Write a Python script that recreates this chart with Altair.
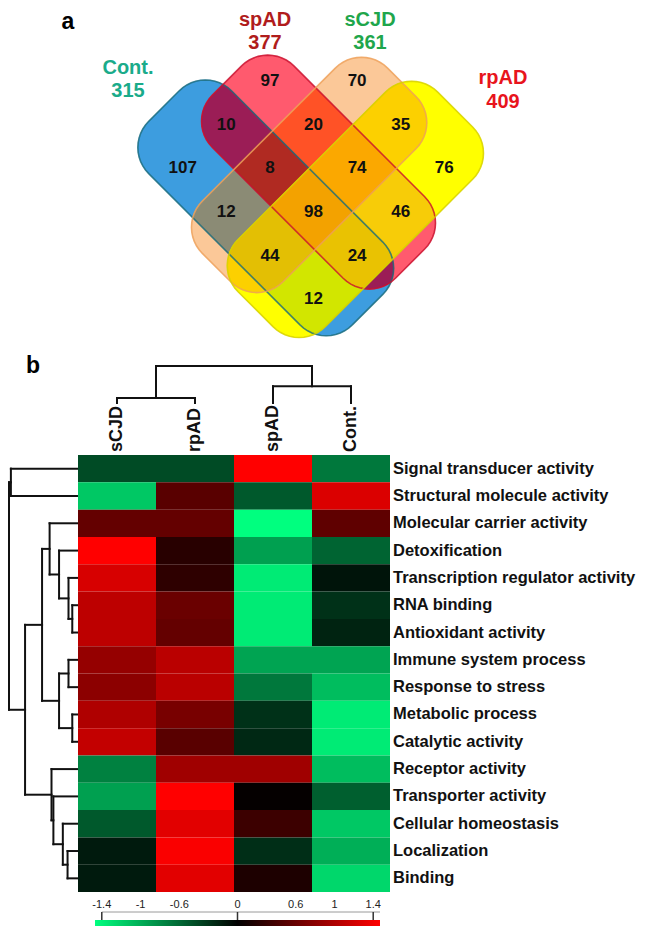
import math
import altair as alt
import pandas as pd

# ======================= DATA =======================
# --- Venn (panel a) ---
set_codes = ["C", "S", "J", "R"]
set_names = ["Cont.", "spAD", "sCJD", "rpAD"]
set_totals = [315, 377, 361, 409]

region_keys = ["C", "S", "J", "R", "CS", "SJ", "CJ", "JR", "SR", "CR",
               "CSJ", "SJR", "CJR", "CSR", "CSJR"]
region_counts = [107, 97, 70, 76, 10, 20, 12, 35, 46, 12, 8, 74, 44, 24, 98]

# --- Heatmap (panel b) ---
groups = ["sCJD", "rpAD", "spAD", "Cont."]
terms = ["Signal transducer activity", "Structural molecule activity",
         "Molecular carrier activity", "Detoxification",
         "Transcription regulator activity", "RNA binding",
         "Antioxidant activity", "Immune system process",
         "Response to stress", "Metabolic process", "Catalytic activity",
         "Receptor activity", "Transporter activity",
         "Cellular homeostasis", "Localization", "Binding"]
vals_sCJD = [-0.41, -1.10, 0.55, 1.40, 1.18, 1.04, 1.04, 0.82, 0.77, 0.96,
             1.07, -0.71, -0.88, -0.49, -0.14, -0.14]
vals_rpAD = [-0.41, 0.49, 0.55, 0.22, 0.25, 0.58, 0.55, 1.02, 1.02, 0.66,
             0.49, 0.88, 1.40, 1.24, 1.37, 1.24]
vals_spAD = [1.40, -0.49, -1.40, -0.88, -1.29, -1.29, -1.29, -0.90, -0.66,
             -0.27, -0.22, 0.88, 0.03, 0.33, -0.25, 0.16]
vals_Cont = [-0.66, 1.20, 0.52, -0.55, -0.11, -0.27, -0.19, -0.90, -1.04,
             -1.29, -1.29, -1.04, -0.52, -1.10, -0.96, -1.18]

# row dendrogram merges (negative id -k-1 = merge k), heights
row_merge_a = [14, 13, 12, 11, 5, 4, 3, 2, 7, 9, -9, -8, -12, 0, -14]
row_merge_b = [15, -1, -2, -3, 6, -5, -6, -7, 8, 10, -10, -11, -4, 1, -13]
row_merge_h = [10, 15, 25, 27, 5, 9, 19, 29, 9, 5, 19, 37, 55, 70, 72]
# column dendrogram merges
col_merge_a = [0, 2, -1]
col_merge_b = [1, 3, -2]
col_merge_h = [0.7, 2.4, 5.3]

# colour bar ticks
cb_labels = [-1.4, -1, -0.6, 0, 0.6, 1, 1.4]
cb_ticks = [-1.4, 0, 1.4]
cb_extent = [-1.47, 1.47]

# ======================= LAYOUT / STYLE =======================
W, H = 630, 919
FONT = "Liberation Sans"
X0, Y0, S = 305.5, 204.0, 43.6          # rotated lattice of the Venn
RAD = 0.6
shape_extent = {                         # (p0, p1, q0, q1) in lattice units
    "C": (-2.93, 1.74, -0.45, 1.45),
    "S": (-2.50, 1.70, -1.45, 0.42),
    "J": (-1.40, 0.45, -2.50, 1.75),
    "R": (-0.55, 1.45, -2.80, 1.78),
}
shape_stroke = {"C": "#1b6b7b", "S": "#c8102e", "J": "#eda05a", "R": "#d6d000"}
region_colors = {
    "C": "#3d9ddf", "S": "#ff5a6e", "J": "#fbc898", "R": "#ffff00",
    "CS": "#9b1d56", "CJ": "#8b8b75", "CR": "#d2e600", "SJ": "#ff5226",
    "SR": "#f7cc08", "JR": "#fcd000", "CSJ": "#b02a22", "CSR": "#e9c202",
    "CJR": "#e3bf04", "SJR": "#fba800", "CSJR": "#f3a200",
}
label_pos = {"C": (120, 60, 83), "S": (257, 12, 35), "J": (362, 12, 35),
             "R": (495, 70, 94)}
label_col = {"C": "#1aab8a", "S": "#b01c1c", "J": "#1fa64c", "R": "#e8141c"}


def rounded_rect(p0, p1, q0, q1, r, n=12):
    pts = []
    corners = [(p1 - r, q1 - r, 0), (p0 + r, q1 - r, 90),
               (p0 + r, q0 + r, 180), (p1 - r, q0 + r, 270)]
    for cp, cq, a0 in corners:
        for k in range(n + 1):
            a = math.radians(a0 + 90 * k / n)
            pts.append((cp + r * math.cos(a), cq + r * math.sin(a)))
    return pts


def clip(subject, clipper):
    out = subject
    m = len(clipper)
    for i in range(m):
        a, b = clipper[i], clipper[(i + 1) % m]
        inp, out = out, []
        if not inp:
            break

        def inside(pt):
            return (b[0] - a[0]) * (pt[1] - a[1]) - (b[1] - a[1]) * (pt[0] - a[0]) >= -1e-12

        def inter(s_, e_):
            dx1, dy1 = e_[0] - s_[0], e_[1] - s_[1]
            dx2, dy2 = b[0] - a[0], b[1] - a[1]
            den = dx1 * dy2 - dy1 * dx2
            t = ((a[0] - s_[0]) * dy2 - (a[1] - s_[1]) * dx2) / den
            return (s_[0] + t * dx1, s_[1] + t * dy1)

        s_ = inp[-1]
        for e_ in inp:
            if inside(e_):
                if not inside(s_):
                    out.append(inter(s_, e_))
                out.append(e_)
            elif inside(s_):
                out.append(inter(s_, e_))
            s_ = e_
    return out


def to_px(p, q):
    return X0 + S * (p - q), Y0 + S * (p + q)


shapes = {c: rounded_rect(*shape_extent[c], RAD) for c in set_codes}

# region polygons, painted by increasing subset size
region_rows = {1: [], 2: [], 3: [], 4: []}
for key in region_keys:
    poly = shapes[key[0]]
    for c in key[1:]:
        poly = clip(poly, shapes[c])
    poly = poly + [poly[0]]
    for i, (p, q) in enumerate(poly):
        x, y = to_px(p, q)
        region_rows[len(key)].append({"poly": key, "i": i, "x": x, "y": y,
                                      "color": region_colors[key]})

outline_rows = []
for c in set_codes:
    poly = shapes[c] + [shapes[c][0]]
    for i, (p, q) in enumerate(poly):
        x, y = to_px(p, q)
        outline_rows.append({"poly": c, "i": i, "x": x, "y": y,
                             "stroke": shape_stroke[c]})

pmap = {"": -2, "J": -1, "JR": 0, "R": 1}
qmap = {"": -2, "S": -1, "CS": 0, "C": 1}
count_rows = []
for key, n in zip(region_keys, region_counts):
    pk = "".join(c for c in "JR" if c in key)
    qk = "".join(c for c in "CS" if c in key)
    x, y = to_px(pmap[pk], qmap[qk])
    count_rows.append({"x": x, "y": y, "n": str(n)})

set_rows = []
for c, name, tot in zip(set_codes, set_names, set_totals):
    lx, ly1, ly2 = label_pos[c]
    set_rows.append({"x": lx, "y": ly1, "t": name, "col": label_col[c]})
    set_rows.append({"x": lx, "y": ly2, "t": str(tot), "col": label_col[c]})

panel_rows = [{"x": 60, "y": 21, "t": "a"}, {"x": 25, "y": 365, "t": "b"}]

heat_rows = []
for g, vals in zip(groups, [vals_sCJD, vals_rpAD, vals_spAD, vals_Cont]):
    for t, v in zip(terms, vals):
        heat_rows.append({"group": g, "term": t, "value": v})


def dendro(a_list, b_list, h_list):
    pos = {}
    segs = []

    def P(c):
        return c if c >= 0 else pos[-c - 1]

    def Hh(c):
        return 0.0 if c >= 0 else h_list[-c - 1]

    for k, (a, b, h) in enumerate(zip(a_list, b_list, h_list)):
        pa, pb = P(a), P(b)
        pos[k] = (pa + pb) / 2
        segs.append({"h1": h, "h2": h, "p1": pa, "p2": pb})
        segs.append({"h1": Hh(a), "h2": h, "p1": pa, "p2": pa})
        segs.append({"h1": Hh(b), "h2": h, "p1": pb, "p2": pb})
    return pd.DataFrame(segs)


row_segs = dendro(row_merge_a, row_merge_b, row_merge_h)
col_segs = dendro(col_merge_a, col_merge_b, col_merge_h)

# ======================= SCALES =======================
px_x = alt.Scale(domain=[0, W], range=[0, W], zero=False, nice=False)
px_y = alt.Scale(domain=[0, H], range=[0, H], zero=False, nice=False)
heat_x = alt.Scale(domain=groups, range=[70, 382], paddingInner=0, paddingOuter=0)
heat_y = alt.Scale(domain=terms, range=[447, 884], paddingInner=0, paddingOuter=0)
heat_c = alt.Scale(domain=[-1.4, 0, 1.4], range=["#00ff7f", "#000000", "#ff0000"],
                   interpolate="rgb", clamp=True)
rd_x = alt.Scale(domain=[0, 72], range=[69, 1], zero=False, nice=False)
rd_y = alt.Scale(domain=[-0.5, 15.5], range=[447, 884], zero=False, nice=False)
cd_x = alt.Scale(domain=[-0.5, 3.5], range=[70, 382], zero=False, nice=False)
cd_y = alt.Scale(domain=[0, 6], range=[395, 353], zero=False, nice=False)
cb_x = alt.Scale(domain=cb_extent, range=[87, 372], zero=False, nice=False)

# ======================= LAYERS =======================
layers = []
for lvl in [1, 2, 3, 4]:
    layers.append(
        alt.Chart(pd.DataFrame(region_rows[lvl])).mark_line(strokeWidth=0.6).encode(
            x=alt.X("x:Q", scale=px_x, axis=None),
            y=alt.Y("y:Q", scale=px_y, axis=None),
            order="i:Q",
            detail="poly:N",
            fill=alt.Fill("color:N", scale=None),
            stroke=alt.Stroke("color:N", scale=None),
        )
    )

layers.append(
    alt.Chart(pd.DataFrame(outline_rows)).mark_line(strokeWidth=1.6, opacity=0.8).encode(
        x=alt.X("x:Q", scale=px_x, axis=None),
        y=alt.Y("y:Q", scale=px_y, axis=None),
        order="i:Q",
        detail="poly:N",
        stroke=alt.Stroke("stroke:N", scale=None),
    )
)

layers.append(
    alt.Chart(pd.DataFrame(count_rows)).mark_text(
        font=FONT, fontSize=17, fontWeight="bold", color="#111111", baseline="middle"
    ).encode(
        x=alt.X("x:Q", scale=px_x, axis=None),
        y=alt.Y("y:Q", scale=px_y, axis=None),
        text="n:N",
    )
)

layers.append(
    alt.Chart(pd.DataFrame(set_rows)).mark_text(
        font=FONT, fontSize=20, fontWeight="bold", baseline="middle"
    ).encode(
        x=alt.X("x:Q", scale=px_x, axis=None),
        y=alt.Y("y:Q", scale=px_y, axis=None),
        text="t:N",
        color=alt.Color("col:N", scale=None),
    )
)

layers.append(
    alt.Chart(pd.DataFrame(panel_rows)).mark_text(
        font=FONT, fontSize=23, fontWeight="bold", baseline="alphabetic", color="#000000"
    ).encode(
        x=alt.X("x:Q", scale=px_x, axis=None),
        y=alt.Y("y:Q", scale=px_y, axis=None),
        text="t:N",
    )
)

heat_df = pd.DataFrame(heat_rows)
layers.append(
    alt.Chart(heat_df).mark_rect().encode(
        x=alt.X("group:N", scale=heat_x, axis=None),
        y=alt.Y("term:N", scale=heat_y, axis=None),
        color=alt.Color("value:Q", scale=heat_c, legend=None),
    )
)

layers.append(
    alt.Chart(pd.DataFrame({"term": terms})).mark_text(
        font=FONT, fontSize=16.5, fontWeight="bold", align="left", baseline="middle",
        color="#111111"
    ).encode(
        y=alt.Y("term:N", scale=heat_y, axis=None),
        x=alt.value(385),
        text="term:N",
    )
)

layers.append(
    alt.Chart(pd.DataFrame({"group": groups})).mark_text(
        font=FONT, fontSize=18, fontWeight="bold", align="left", baseline="middle",
        angle=270, color="#111111"
    ).encode(
        x=alt.X("group:N", scale=heat_x, axis=None),
        y=alt.value(444),
        text="group:N",
    )
)

layers.append(
    alt.Chart(row_segs).mark_rule(strokeWidth=2, color="#111111", strokeCap="square").encode(
        x=alt.X("h1:Q", scale=rd_x, axis=None), x2="h2:Q",
        y=alt.Y("p1:Q", scale=rd_y, axis=None), y2="p2:Q",
    )
)

layers.append(
    alt.Chart(col_segs).mark_rule(strokeWidth=2, color="#111111", strokeCap="square").encode(
        x=alt.X("p1:Q", scale=cd_x, axis=None), x2="p2:Q",
        y=alt.Y("h1:Q", scale=cd_y, axis=None), y2="h2:Q",
    )
)

grad = alt.Gradient(
    gradient="linear",
    stops=[alt.GradientStop(color="#00ff7f", offset=0),
           alt.GradientStop(color="#000000", offset=0.5),
           alt.GradientStop(color="#ff0000", offset=1)],
    x1=0, x2=1, y1=0, y2=0,
)
layers.append(
    alt.Chart(pd.DataFrame({"a": [cb_extent[0]], "b": [cb_extent[1]]})).mark_rect(color=grad).encode(
        x=alt.X("a:Q", scale=cb_x, axis=None), x2="b:Q",
        y=alt.value(912), y2=alt.value(918),
    )
)
layers.append(
    alt.Chart(pd.DataFrame({"a": [cb_ticks[0]], "b": [cb_extent[1]]})).mark_rule(
        strokeWidth=1, color="#9a9a9a").encode(
        x=alt.X("a:Q", scale=cb_x, axis=None), x2="b:Q",
        y=alt.value(904),
    )
)
layers.append(
    alt.Chart(pd.DataFrame({"v": cb_ticks})).mark_rule(strokeWidth=1.5, color="#333333").encode(
        x=alt.X("v:Q", scale=cb_x, axis=None),
        y=alt.value(904), y2=alt.value(912),
    )
)
layers.append(
    alt.Chart(pd.DataFrame({"v": cb_labels, "t": [str(v) for v in cb_labels]})).mark_text(
        font=FONT, fontSize=11, color="#222222", baseline="middle"
    ).encode(
        x=alt.X("v:Q", scale=cb_x, axis=None),
        y=alt.value(897),
        text="t:N",
    )
)

chart = alt.layer(*layers).resolve_scale(
    x="independent", y="independent"
).properties(
    width=W, height=H, padding=0,
    autosize=alt.AutoSizeParams(type="none"),
).configure_view(stroke=None)

chart.save("out.html", embed_options={"renderer": "svg", "actions": False})
